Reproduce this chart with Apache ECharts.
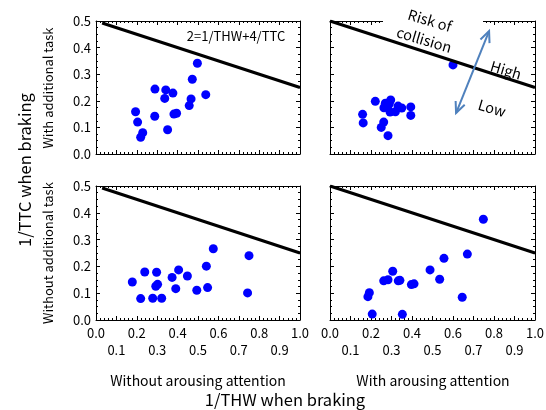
<!DOCTYPE html>
<html><head><meta charset="utf-8">
<script src="https://cdn.jsdelivr.net/npm/echarts@6/dist/echarts.min.js"></script>
<style>html,body{margin:0;padding:0;background:#fff}#c{width:546px;height:410px}</style>
</head><body><div id="c"></div>
<script>
// ---------- texts ----------
const xTickLabels = ['0.0','0.1','0.2','0.3','0.4','0.5','0.6','0.7','0.8','0.9','1.0'];
const yTickLabels = ['0.0','0.1','0.2','0.3','0.4','0.5'];
const rowLabels = ['With additional task', 'Without additional task'];
const colLabels = ['Without arousing attention', 'With arousing attention'];
const xTitle = '1/THW when braking';
const yTitle = '1/TTC when braking';
const boundaryLabel = '2=1/THW+4/TTC';
const riskLabel = 'Risk of\ncollision';
const highLabel = 'High';
const lowLabel = 'Low';

// ---------- data (1/THW, 1/TTC) ----------
// top-left: with additional task, without arousing attention
const tlX = [0.497,0.472,0.289,0.342,0.377,0.337,0.538,0.466,0.457,0.194,0.288,0.382,0.395,0.204,0.351,0.229,0.219];
const tlY = [0.341,0.281,0.244,0.241,0.229,0.209,0.223,0.207,0.182,0.159,0.142,0.150,0.153,0.120,0.091,0.080,0.063];
// top-right: with additional task, with arousing attention
const trX = [0.221,0.270,0.296,0.289,0.263,0.332,0.350,0.394,0.293,0.319,0.394,0.159,0.162,0.262,0.250,0.283,0.600];
const trY = [0.198,0.191,0.203,0.188,0.174,0.180,0.173,0.177,0.158,0.159,0.145,0.149,0.117,0.120,0.100,0.069,0.335];
// bottom-left: without additional task, without arousing attention
const blX = [0.575,0.750,0.541,0.239,0.297,0.405,0.373,0.448,0.178,0.302,0.293,0.391,0.494,0.547,0.743,0.219,0.278,0.322];
const blY = [0.266,0.240,0.201,0.179,0.178,0.187,0.159,0.164,0.142,0.133,0.126,0.117,0.111,0.121,0.101,0.080,0.081,0.081];
// bottom-right: without additional task, with arousing attention
const brX = [0.748,0.670,0.556,0.488,0.306,0.262,0.283,0.333,0.341,0.397,0.410,0.535,0.192,0.185,0.645,0.206,0.353];
const brY = [0.376,0.246,0.230,0.187,0.182,0.146,0.150,0.146,0.148,0.132,0.135,0.152,0.102,0.087,0.085,0.022,0.021];

// boundary 2 = 1/THW + 4/TTC  ->  1/TTC = (2 - 1/THW)/4
const boundaryStartLeft = 0.03, boundaryStartRight = 0.0, boundaryEnd = 1.0;
// arrow end points in top-right panel data coords
const arrowTop = [0.776, 0.462];
const arrowBottom = [0.615, 0.154];

const FONT = 'Noto Sans CJK JP';
const zip = (xs, ys) => xs.map((x, i) => [x, ys[i]]);
const boundary = x0 => [[x0, (2 - x0) / 4], [boundaryEnd, (2 - boundaryEnd) / 4]];

const grids = [
  {left: 96, top: 21, width: 204, height: 133},
  {left: 330, top: 21, width: 205, height: 133},
  {left: 96, top: 186, width: 204, height: 134},
  {left: 330, top: 186, width: 205, height: 134}
].map(g => Object.assign({show: false, containLabel: false, outerBoundsMode: 'none'}, g));

const blk = {color: '#000', width: 1};
function xAx(gi, pos, labels) {
  return {
    type: 'value', gridIndex: gi, position: pos, min: 0, max: 1, interval: 0.1,
    axisLine: {show: true, onZero: false, lineStyle: blk},
    axisTick: {show: true, inside: true, length: 4, lineStyle: blk},
    minorTick: {show: true, splitNumber: 5, length: 2, lineStyle: blk},
    splitLine: {show: false},
    axisLabel: {
      show: labels, margin: 5, color: '#000', fontFamily: FONT, fontSize: 13, lineHeight: 17,
      interval: 0, showMinLabel: true, showMaxLabel: true, hideOverlap: false,
      formatter: (v) => { const k = Math.round(v * 10); const s = xTickLabels[k]; return k % 2 ? '\n' + s : s; }
    }
  };
}
function yAx(gi, pos, labels) {
  return {
    type: 'value', gridIndex: gi, position: pos, min: 0, max: 0.5, interval: 0.1,
    axisLine: {show: true, onZero: false, lineStyle: blk},
    axisTick: {show: true, inside: true, length: 4, lineStyle: blk},
    minorTick: {show: true, splitNumber: 4, length: 2, lineStyle: blk},
    splitLine: {show: false},
    axisLabel: {
      show: labels, margin: 5, color: '#000', fontFamily: FONT, fontSize: 13,
      showMinLabel: true, showMaxLabel: true,
      formatter: (v) => yTickLabels[Math.round(v * 10)]
    }
  };
}

const xAxes = [], yAxes = [];
for (let g = 0; g < 4; g++) {
  xAxes.push(xAx(g, 'bottom', g >= 2));
  xAxes.push(xAx(g, 'top', false));
  yAxes.push(yAx(g, 'left', g % 2 === 0));
  yAxes.push(yAx(g, 'right', false));
}

const panelData = [zip(tlX, tlY), zip(trX, trY), zip(blX, blY), zip(brX, brY)];
const series = [];
panelData.forEach((d, g) => {
  series.push({
    type: 'scatter', xAxisIndex: 2 * g, yAxisIndex: 2 * g, data: d,
    symbolSize: 9, itemStyle: {color: '#0000ff', opacity: 1}, z: 2, silent: true
  });
  series.push({
    type: 'line', xAxisIndex: 2 * g, yAxisIndex: 2 * g,
    data: boundary(g % 2 === 0 ? boundaryStartLeft : boundaryStartRight),
    showSymbol: false, symbol: 'none', lineStyle: {color: '#000', width: 3}, z: 3, silent: true
  });
});

const chart = echarts.init(document.getElementById('c'), null, {renderer: 'canvas'});
chart.setOption({
  animation: false,
  backgroundColor: '#fff',
  grid: grids,
  xAxis: xAxes,
  yAxis: yAxes,
  series: series
});

// ---------- annotations ----------
const tip = chart.convertToPixel({gridIndex: 1}, arrowTop);
const tail = chart.convertToPixel({gridIndex: 1}, arrowBottom);
function head(p, q) {
  const dx = q[0] - p[0], dy = q[1] - p[1];
  const L = Math.hypot(dx, dy), ux = dx / L, uy = dy / L;
  const a = 0.42, len = 12;
  const w = s => [p[0] + len * (ux * Math.cos(s * a) - uy * Math.sin(s * a)),
                  p[1] + len * (ux * Math.sin(s * a) + uy * Math.cos(s * a))];
  return [w(1), p, w(-1)];
}
const arrowColor = '#4f81bd';
const rot = -0.29;
const txt = (x, y, text, size, rotation, extra) => ({
  type: 'text', x: x, y: y, rotation: rotation || 0, z: 100,
  style: Object.assign({text: text, fill: '#000', font: size + 'px "' + FONT + '"', align: 'center', verticalAlign: 'middle'}, extra || {})
});

chart.setOption({
  graphic: [
    {type: 'rect', shape: {x: 383, y: 12, width: 100, height: 16}, style: {fill: '#fff'}, z: 99},
    txt(427, 30, riskLabel, 14.5, rot, {lineHeight: 20}),
    txt(506, 70, highLabel, 14.5, rot),
    txt(492, 108, lowLabel, 14.5, rot),
    txt(236, 36, boundaryLabel, 13, 0),
    {type: 'line', shape: {x1: tip[0], y1: tip[1], x2: tail[0], y2: tail[1]}, style: {stroke: arrowColor, lineWidth: 2}, z: 100},
    {type: 'polyline', shape: {points: head(tip, tail)}, style: {stroke: arrowColor, lineWidth: 2, fill: null}, z: 100},
    {type: 'polyline', shape: {points: head(tail, tip)}, style: {stroke: arrowColor, lineWidth: 2, fill: null}, z: 100},
    txt(48, 88, rowLabels[0], 13, Math.PI / 2),
    txt(48, 253, rowLabels[1], 13, Math.PI / 2),
    txt(25, 170, yTitle, 16.5, Math.PI / 2),
    txt(198, 381, colLabels[0], 14, 0),
    txt(433, 381, colLabels[1], 14, 0),
    txt(285, 400, xTitle, 16.5, 0)
  ]
});
</script>
</body></html>
